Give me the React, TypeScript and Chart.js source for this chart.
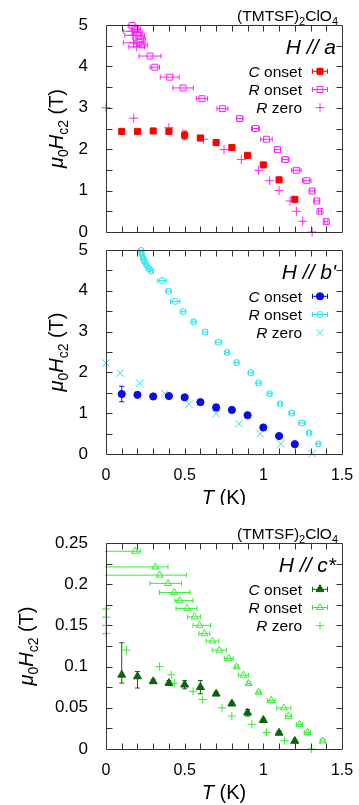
import React, { useEffect, useRef } from "react";
import { Chart, registerables } from "chart.js";

Chart.register(...registerables);

const FONT = "'Liberation Sans', Arial, Helvetica, sans-serif";

// ---------------- Panel (a): H // a ----------------
const aC_T = [0.1, 0.2, 0.3, 0.4, 0.5, 0.6, 0.7, 0.8, 0.9, 1.0, 1.1, 1.2];
const aC_H = [2.43, 2.43, 2.44, 2.43, 2.34, 2.27, 2.16, 2.04, 1.85, 1.62, 1.26, 0.79];
const aC_dH = [0.02, 0.02, 0.02, 0.03, 0.1, 0.04, 0.03, 0.02, 0.02, 0.03, 0.03, 0.03];

const aRo_T = [0.166, 0.19, 0.2, 0.21, 0.22, 0.21, 0.23, 0.28, 0.31, 0.405, 0.49, 0.61, 0.74, 0.85, 0.95, 1.02, 1.09, 1.14, 1.21, 1.276, 1.31, 1.34, 1.36, 1.4];
const aRo_H = [4.99, 4.9, 4.82, 4.74, 4.66, 4.58, 4.52, 4.25, 3.98, 3.74, 3.48, 3.22, 2.98, 2.74, 2.5, 2.24, 1.99, 1.75, 1.49, 1.24, 0.99, 0.75, 0.5, 0.25];
const aRo_dT = [0.025, 0.03, 0.03, 0.035, 0.03, 0.03, 0.035, 0.07, 0.03, 0.06, 0.065, 0.035, 0.035, 0.02, 0.025, 0.037, 0.02, 0.023, 0.03, 0.027, 0.015, 0.015, 0.01, 0.01];

const aRz_T = [0, 0.176, 0.4, 0.62, 0.75, 0.86, 0.97, 1.04, 1.1, 1.17, 1.21, 1.25, 1.31, 0.165, 0.17, 0.175, 0.195];
const aRz_H = [3.0, 2.75, 2.52, 2.24, 1.99, 1.75, 1.49, 1.24, 1.0, 0.75, 0.5, 0.26, 0.0, 4.85, 4.75, 4.57, 4.47];
const aRz_dT = [0, 0, 0, 0, 0, 0, 0, 0, 0, 0, 0, 0, 0, 0.055, 0.05, 0.065, 0.05];

// ---------------- Panel (b): H // b' ----------------
const bC_T = [0.1, 0.2, 0.3, 0.4, 0.5, 0.6, 0.7, 0.8, 0.9, 1.0, 1.1, 1.2];
const bC_H = [1.47, 1.45, 1.41, 1.42, 1.39, 1.27, 1.14, 1.08, 0.95, 0.65, 0.44, 0.24];
const bC_dH = [0.19, 0.03, 0.05, 0.03, 0.04, 0.03, 0.08, 0.02, 0.02, 0.03, 0.02, 0.02];

const bRo_T = [0.223, 0.228, 0.236, 0.244, 0.257, 0.27, 0.287, 0.356, 0.398, 0.44, 0.49, 0.557, 0.63, 0.715, 0.77, 0.83, 0.92, 0.97, 1.04, 1.107, 1.18, 1.246, 1.29, 1.35];
const bRo_H = [4.99, 4.9, 4.8, 4.73, 4.64, 4.55, 4.49, 4.25, 3.99, 3.74, 3.49, 3.24, 2.99, 2.74, 2.49, 2.24, 1.99, 1.74, 1.48, 1.23, 1.0, 0.76, 0.51, 0.25];
const bRo_dT = [0.01, 0.01, 0.01, 0.01, 0.01, 0.01, 0.01, 0.03, 0.015, 0.03, 0.015, 0.01, 0.015, 0.02, 0.01, 0.01, 0.015, 0.015, 0.01, 0.01, 0.015, 0.02, 0.01, 0.01];

const bRz_T = [0, 0.09, 0.215, 0.373, 0.527, 0.7, 0.845, 0.98, 1.11, 1.31];
const bRz_H = [2.23, 1.98, 1.73, 1.48, 1.22, 0.99, 0.74, 0.5, 0.25, 0.01];

// ---------------- Panel (c): H // c* ----------------
const cC_T = [0.1, 0.2, 0.3, 0.4, 0.5, 0.6, 0.7, 0.8, 0.9, 1.0, 1.1, 1.2];
const cC_H = [0.09, 0.088, 0.082, 0.08, 0.078, 0.075, 0.067, 0.055, 0.044, 0.035, 0.0195, 0.0097];
const cC_dHp = [0.039, 0.006, 0.002, 0.003, 0.005, 0.008, 0.002, 0.002, 0.004, 0.002, 0.002, 0.001];
const cC_dHm = [0.01, 0.014, 0.002, 0.003, 0.005, 0.008, 0.002, 0.002, 0.004, 0.002, 0.002, 0.001];

const cRo_T = [0.185, 0.314, 0.341, 0.394, 0.434, 0.468, 0.515, 0.563, 0.595, 0.625, 0.677, 0.72, 0.78, 0.83, 0.874, 0.906, 0.97, 1.05, 1.13, 1.16, 1.23, 1.28, 1.377];
const cRo_H = [0.24, 0.221, 0.211, 0.201, 0.19, 0.18, 0.1706, 0.1604, 0.15, 0.14, 0.131, 0.12, 0.11, 0.0997, 0.0896, 0.0795, 0.069, 0.059, 0.0499, 0.0397, 0.0296, 0.0199, 0.0097];
const cRo_dTm = [0.2, 0.35, 0.4, 0.114, 0.094, 0.03, 0.07, 0.044, 0.042, 0.035, 0.04, 0.045, 0.028, 0.01, 0.033, 0.01, 0.01, 0.025, 0.045, 0.02, 0.02, 0.02, 0.015];
const cRo_dTp = [0.033, 0.08, 0.17, 0.086, 0.1, 0.085, 0.063, 0.037, 0.07, 0.035, 0.04, 0.045, 0.028, 0.01, 0.033, 0.01, 0.01, 0.025, 0.045, 0.02, 0.02, 0.02, 0.015];

const cRz_T = [0, 0, 0, 0, 0.13, 0.34, 0.415, 0.434, 0.553, 0.614, 0.737, 0.8, 0.927, 1.02, 1.135, 1.305];
const cRz_H = [0.17, 0.16, 0.15, 0.14, 0.12, 0.1, 0.09, 0.08, 0.07, 0.06, 0.05, 0.04, 0.03, 0.02, 0.01, 0.0];

// ---------------- types & configs ----------------
type Series = {
  x: number[];
  y: number[];
  xm?: number[];
  xp?: number[];
  ym?: number[];
  yp?: number[];
  style: string;
  color: string;
  fill: boolean;
  r: number;
  lab: string;
  legendBar: boolean;
};

type Panel = {
  top: number;
  height: number;
  padTop: number;
  xAxisH: number;
  showX: boolean;
  yMax: number;
  yStep: number;
  yMinor: number;
  yTitleX: number;
  title: boolean;
  hLabel: string;
  series: Series[];
};

const MAG = "#ff22ff";
const RED = "#ff0000";
const BLUE = "#0a0af0";
const CYAN = "#22e6ee";
const DGREEN = "#0a640a";
const LGREEN = "#33ee33";

const panels: Panel[] = [
  {
    top: 0, height: 240, padTop: 25, xAxisH: 8, showX: false,
    yMax: 5, yStep: 1, yMinor: 0.5, yTitleX: 63, title: true, hLabel: "H // a",
    series: [
      { x: aC_T, y: aC_H, ym: aC_dH, yp: aC_dH, style: "rect", color: RED, fill: true, r: 4.3, lab: "C", legendBar: true },
      { x: aRo_T, y: aRo_H, xm: aRo_dT, xp: aRo_dT, style: "rect", color: MAG, fill: false, r: 4.2, lab: "R onset", legendBar: true },
      { x: aRz_T, y: aRz_H, xm: aRz_dT, xp: aRz_dT, style: "cross", color: MAG, fill: false, r: 4.5, lab: "R zero", legendBar: false },
    ],
  },
  {
    top: 240, height: 265, padTop: 10, xAxisH: 51, showX: true,
    yMax: 5, yStep: 1, yMinor: 0.5, yTitleX: 63, title: false, hLabel: "H // b'",
    series: [
      { x: bC_T, y: bC_H, ym: bC_dH, yp: bC_dH, style: "circle", color: BLUE, fill: true, r: 3.6, lab: "C", legendBar: true },
      { x: bRo_T, y: bRo_H, xm: bRo_dT, xp: bRo_dT, style: "circle", color: CYAN, fill: false, r: 3, lab: "R onset", legendBar: true },
      { x: bRz_T, y: bRz_H, style: "crossRot", color: CYAN, fill: false, r: 5.2, lab: "R zero", legendBar: false },
    ],
  },
  {
    top: 505, height: 300, padTop: 38, xAxisH: 56, showX: true,
    yMax: 0.25, yStep: 0.05, yMinor: 0.025, yTitleX: 33, title: true, hLabel: "H // c*",
    series: [
      { x: cC_T, y: cC_H, ym: cC_dHm, yp: cC_dHp, style: "triangle", color: DGREEN, fill: true, r: 4.6, lab: "C", legendBar: true },
      { x: cRo_T, y: cRo_H, xm: cRo_dTm, xp: cRo_dTp, style: "triangle", color: LGREEN, fill: false, r: 4, lab: "R onset", legendBar: true },
      { x: cRz_T, y: cRz_H, style: "cross", color: LGREEN, fill: false, r: 4, lab: "R zero", legendBar: false },
    ],
  },
];

// ---------------- helpers ----------------
type Part = { t: string; it?: boolean; sub?: boolean };

function partFont(p: Part, size: number) {
  const s = p.sub ? Math.round(size * 0.7) : size;
  return `${p.it ? "italic " : ""}${s}px ${FONT}`;
}

function drawRich(ctx: CanvasRenderingContext2D, parts: Part[], x: number, y: number, align: string, size: number, color: string) {
  let w = 0;
  for (const p of parts) {
    ctx.font = partFont(p, size);
    w += ctx.measureText(p.t).width;
  }
  let cx = align === "right" ? x - w : align === "center" ? x - w / 2 : x;
  ctx.fillStyle = color;
  ctx.textBaseline = "alphabetic";
  ctx.textAlign = "left";
  for (const p of parts) {
    ctx.font = partFont(p, size);
    ctx.fillText(p.t, cx, p.sub ? y + size * 0.25 : y);
    cx += ctx.measureText(p.t).width;
  }
}

function drawMarker(ctx: CanvasRenderingContext2D, style: string, x: number, y: number, r: number, color: string, fill: boolean) {
  ctx.save();
  ctx.strokeStyle = color;
  ctx.fillStyle = color;
  ctx.lineWidth = 1;
  ctx.beginPath();
  if (style === "rect") {
    const s = Math.SQRT1_2 * r;
    ctx.rect(x - s, y - s, 2 * s, 2 * s);
  } else if (style === "circle") {
    ctx.arc(x, y, r, 0, Math.PI * 2);
  } else if (style === "triangle") {
    const a = (2 * Math.PI) / 3;
    ctx.moveTo(x, y - r);
    ctx.lineTo(x + Math.sin(a) * r, y - Math.cos(a) * r);
    ctx.lineTo(x + Math.sin(2 * a) * r, y - Math.cos(2 * a) * r);
    ctx.closePath();
  } else if (style === "cross") {
    ctx.moveTo(x, y - r);
    ctx.lineTo(x, y + r);
    ctx.moveTo(x - r, y);
    ctx.lineTo(x + r, y);
  } else if (style === "crossRot") {
    const d = r * Math.SQRT1_2;
    ctx.moveTo(x - d, y - d);
    ctx.lineTo(x + d, y + d);
    ctx.moveTo(x - d, y + d);
    ctx.lineTo(x + d, y - d);
  }
  if (fill && style !== "cross" && style !== "crossRot") ctx.fill();
  ctx.stroke();
  ctx.restore();
}

const fmt = (v: any) => String(Math.round(Number(v) * 1000) / 1000);

function PanelChart({ p }: { p: Panel }) {
  const ref = useRef<HTMLCanvasElement | null>(null);
  useEffect(() => {
    if (!ref.current) return;
    const datasets = p.series.map((s) => ({
      data: s.x.map((xv, i) => ({ x: xv, y: s.y[i] })),
      pointStyle: s.style,
      pointRadius: s.r,
      pointBorderWidth: 1,
      borderColor: s.color,
      backgroundColor: s.fill ? s.color : "rgba(0,0,0,0)",
      showLine: false,
      clip: false as any,
    }));

    const errPlugin = {
      id: "errbars",
      beforeDatasetsDraw(chart: any) {
        const ctx = chart.ctx as CanvasRenderingContext2D;
        const xs = chart.scales.x;
        const ys = chart.scales.y;
        const ca = chart.chartArea;
        ctx.save();
        ctx.beginPath();
        ctx.rect(ca.left - 1, ca.top - 1, ca.right - ca.left + 2, ca.bottom - ca.top + 2);
        ctx.clip();
        ctx.lineWidth = 1;
        for (const s of p.series) {
          ctx.strokeStyle = s.color;
          s.x.forEach((xv, i) => {
            const px = xs.getPixelForValue(xv);
            const py = ys.getPixelForValue(s.y[i]);
            if (s.xm && s.xp && (s.xm[i] > 0 || s.xp[i] > 0)) {
              const x1 = xs.getPixelForValue(xv - s.xm[i]);
              const x2 = xs.getPixelForValue(xv + s.xp[i]);
              ctx.beginPath();
              ctx.moveTo(x1, py);
              ctx.lineTo(x2, py);
              ctx.moveTo(x1, py - 2.5);
              ctx.lineTo(x1, py + 2.5);
              ctx.moveTo(x2, py - 2.5);
              ctx.lineTo(x2, py + 2.5);
              ctx.stroke();
            }
            if (s.ym && s.yp && (s.ym[i] > 0 || s.yp[i] > 0)) {
              const y1 = ys.getPixelForValue(s.y[i] - s.ym[i]);
              const y2 = ys.getPixelForValue(s.y[i] + s.yp[i]);
              ctx.beginPath();
              ctx.moveTo(px, y1);
              ctx.lineTo(px, y2);
              ctx.moveTo(px - 2.5, y1);
              ctx.lineTo(px + 2.5, y1);
              ctx.moveTo(px - 2.5, y2);
              ctx.lineTo(px + 2.5, y2);
              ctx.stroke();
            }
          });
        }
        ctx.restore();
      },
    };

    const decoPlugin = {
      id: "deco",
      afterDraw(chart: any) {
        const ctx = chart.ctx as CanvasRenderingContext2D;
        const xs = chart.scales.x;
        const ys = chart.scales.y;
        const ca = chart.chartArea;
        const L = Math.round(ca.left) + 0.5;
        const R = Math.round(ca.right) + 0.5;
        const T = Math.round(ca.top) + 0.5;
        const B = Math.round(ca.bottom) + 0.5;
        ctx.save();
        ctx.strokeStyle = "#333333";
        ctx.lineWidth = 1;
        ctx.beginPath();
        ctx.rect(L, T, R - L, B - T);
        ctx.stroke();
        const tl = 6;
        ctx.beginPath();
        for (let k = 1; k < 15; k++) {
          const xv = k / 10;
          const px = Math.round(xs.getPixelForValue(xv)) + 0.5;
          ctx.moveTo(px, B);
          ctx.lineTo(px, B - tl);
          ctx.moveTo(px, T);
          ctx.lineTo(px, T + tl);
        }
        const n = Math.round(p.yMax / p.yMinor);
        for (let k = 1; k < n; k++) {
          const yv = k * p.yMinor;
          const py = Math.round(ys.getPixelForValue(yv)) + 0.5;
          ctx.moveTo(L, py);
          ctx.lineTo(L + tl, py);
          ctx.moveTo(R, py);
          ctx.lineTo(R - tl, py);
        }
        ctx.stroke();

        // y axis title
        ctx.save();
        ctx.translate(p.yTitleX, (ca.top + ca.bottom) / 2);
        ctx.rotate(-Math.PI / 2);
        drawRich(ctx, [
          { t: "\u03bc", it: true },
          { t: "0", sub: true },
          { t: "H", it: true },
          { t: "c2", sub: true },
          { t: " (T)" },
        ], 0, 0, "center", 20, "#000");
        ctx.restore();

        // x axis title
        if (p.showX) {
          drawRich(ctx, [{ t: "T", it: true }, { t: " (K)" }], (ca.left + ca.right) / 2, ca.bottom + 50, "center", 20, "#000");
        }

        // compound title
        if (p.title) {
          drawRich(ctx, [
            { t: "(TMTSF)" },
            { t: "2", sub: true },
            { t: "ClO" },
            { t: "4", sub: true },
          ], ca.right - 4, ca.top - 4, "right", 15.5, "#000");
        }

        // field direction label
        drawRich(ctx, [{ t: p.hLabel, it: true }], ca.right - 6, ca.top + 29, "right", 21, "#000");

        // legend
        const rows = [46.3, 64.5, 82.7];
        p.series.forEach((s, i) => {
          const yy = ca.top + rows[i];
          const parts: Part[] = s.lab === "C"
            ? [{ t: "C", it: true }, { t: " onset" }]
            : [{ t: "R", it: true }, { t: s.lab.slice(1) }];
          drawRich(ctx, parts, ca.right - 40, yy + 5.5, "right", 15.5, "#000");
          const mx = ca.right - 22;
          if (s.legendBar) {
            ctx.strokeStyle = s.color;
            ctx.beginPath();
            ctx.moveTo(mx - 7.5, yy);
            ctx.lineTo(mx + 7.5, yy);
            ctx.moveTo(mx - 7.5, yy - 2.5);
            ctx.lineTo(mx - 7.5, yy + 2.5);
            ctx.moveTo(mx + 7.5, yy - 2.5);
            ctx.lineTo(mx + 7.5, yy + 2.5);
            ctx.stroke();
          }
          drawMarker(ctx, s.style, mx, yy, s.r, s.color, s.fill);
        });
        ctx.restore();
      },
    };

    const chart = new Chart(ref.current, {
      type: "scatter",
      data: { datasets },
      options: {
        responsive: false,
        animation: false,
        events: [],
        devicePixelRatio: 1,
        layout: { autoPadding: false, padding: { left: 0, right: 17, top: p.padTop, bottom: 0 } },
        plugins: { legend: { display: false }, tooltip: { enabled: false }, title: { display: false } },
        scales: {
          x: {
            type: "linear",
            min: 0,
            max: 1.5,
            grid: { display: false },
            border: { display: false },
            ticks: {
              display: p.showX,
              stepSize: 0.5,
              padding: 4,
              maxRotation: 0,
              color: "#000",
              font: { family: FONT, size: 16 },
              callback: (v: any) => fmt(v),
            },
            afterFit: (s: any) => {
              s.height = p.xAxisH;
              s.paddingLeft = 0;
              s.paddingRight = 0;
              s.paddingTop = 0;
              s.paddingBottom = 0;
            },
          },
          y: {
            type: "linear",
            min: 0,
            max: p.yMax,
            grid: { display: false },
            border: { display: false },
            ticks: {
              stepSize: p.yStep,
              padding: 10,
              color: "#000",
              font: { family: FONT, size: 17 },
              callback: (v: any) => fmt(v),
            },
            afterFit: (s: any) => {
              s.width = 106;
              s.paddingTop = 0;
              s.paddingBottom = 0;
              s.paddingLeft = 0;
              s.paddingRight = 0;
            },
          },
        },
      } as any,
      plugins: [errPlugin, decoPlugin],
    });
    return () => chart.destroy();
  }, [p]);

  return (
    <canvas
      ref={ref}
      width={359}
      height={p.height}
      style={{ position: "absolute", left: 0, top: p.top, width: 359, height: p.height }}
    />
  );
}

export default function App() {
  return (
    <div style={{ position: "absolute", left: 0, top: 0, width: 359, height: 805, background: "#ffffff", overflow: "hidden" }}>
      {panels.map((p, i) => (
        <PanelChart key={i} p={p} />
      ))}
    </div>
  );
}
